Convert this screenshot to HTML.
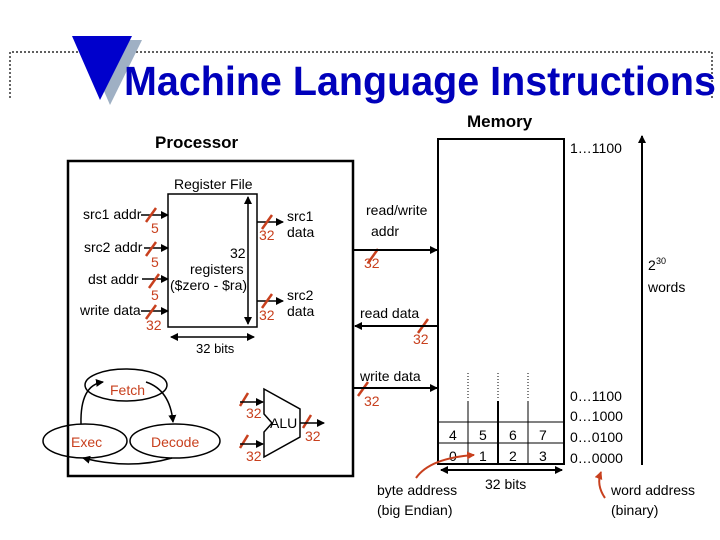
<!DOCTYPE html>
<html><head><style>
body{margin:0;background:#fff;width:720px;height:540px;overflow:hidden}
svg{display:block}
text{font-family:"Liberation Sans",sans-serif}
</style></head><body>
<svg width="720" height="540" viewBox="0 0 720 540">
<defs>
<marker id="a" markerWidth="8" markerHeight="8" refX="7" refY="4" orient="auto-start-reverse" markerUnits="userSpaceOnUse"><path d="M0,0 L8,4 L0,8 z" fill="#000"/></marker>
<marker id="r" markerWidth="8" markerHeight="8" refX="7" refY="4" orient="auto" markerUnits="userSpaceOnUse"><path d="M0,0 L8,4 L0,8 z" fill="#c8401e"/></marker>
</defs>
<!-- title -->
<polyline points="10,98 10,52 712,52 712,98" fill="none" stroke="#000" stroke-dasharray="2,2" stroke-width="1.2"/>
<polygon points="82,40 142,40 110,105" fill="#9fb0c4"/>
<polygon points="72,36 132,36 100,100" fill="#0000cc"/>
<text x="124" y="95" font-size="41" font-weight="bold" fill="#0000bb" textLength="592" lengthAdjust="spacingAndGlyphs">Machine Language Instructions</text>
<!-- processor -->
<text x="155" y="148" font-size="17" font-weight="bold">Processor</text>
<rect x="68" y="161" width="285" height="315" fill="none" stroke="#000" stroke-width="2.5"/>
<text x="174" y="189" font-size="14">Register File</text>
<rect x="168" y="194" width="89" height="133" fill="none" stroke="#000" stroke-width="1.5"/>
<line x1="248" y1="197" x2="248" y2="324" stroke="#000" stroke-width="1.5" marker-start="url(#a)" marker-end="url(#a)"/>
<line x1="171" y1="337" x2="254" y2="337" stroke="#000" stroke-width="1.5" marker-start="url(#a)" marker-end="url(#a)"/>
<text x="196" y="353" font-size="13">32 bits</text>
<text x="230" y="258" font-size="14">32</text>
<text x="190" y="274" font-size="14">registers</text>
<text x="170" y="290" font-size="14">($zero - $ra)</text>
<g font-size="14">
<text x="83" y="219">src1 addr</text>
<text x="84" y="252">src2 addr</text>
<text x="88" y="284">dst addr</text>
<text x="80" y="315">write data</text>
<text x="287" y="221">src1</text><text x="287" y="237">data</text>
<text x="287" y="300">src2</text><text x="287" y="316">data</text>
</g>
<g stroke="#000" stroke-width="1.5">
<line x1="141" y1="215" x2="168" y2="215" marker-end="url(#a)"/>
<line x1="144" y1="248" x2="168" y2="248" marker-end="url(#a)"/>
<line x1="142" y1="279" x2="168" y2="279" marker-end="url(#a)"/>
<line x1="141" y1="311" x2="168" y2="311" marker-end="url(#a)"/>
<line x1="257" y1="222" x2="283" y2="222" marker-end="url(#a)"/>
<line x1="257" y1="301" x2="283" y2="301" marker-end="url(#a)"/>
</g>
<g stroke="#c8401e" stroke-width="2.5">
<line x1="146" y1="222" x2="156" y2="208"/>
<line x1="146" y1="256" x2="156" y2="242"/>
<line x1="149" y1="288" x2="159" y2="274"/>
<line x1="146" y1="319" x2="156" y2="305"/>
<line x1="262" y1="229" x2="272" y2="215"/>
<line x1="262" y1="308" x2="272" y2="294"/>
<line x1="240" y1="406" x2="248" y2="393"/>
<line x1="240" y1="448" x2="248" y2="435"/>
<line x1="303" y1="428" x2="311" y2="415"/>
<line x1="368" y1="263" x2="378" y2="249"/>
<line x1="418" y1="333" x2="428" y2="319"/>
<line x1="358" y1="396" x2="368" y2="382"/>
</g>
<g font-size="14" fill="#c8401e">
<text x="151" y="233">5</text><text x="151" y="267">5</text><text x="151" y="300">5</text><text x="146" y="330">32</text>
<text x="259" y="240">32</text><text x="259" y="320">32</text>
<text x="246" y="418">32</text><text x="246" y="461">32</text><text x="305" y="441">32</text>
<text x="364" y="268">32</text><text x="413" y="344">32</text><text x="364" y="406">32</text>
</g>
<!-- FSM -->
<g fill="none" stroke="#000" stroke-width="1.5">
<ellipse cx="126" cy="385" rx="41" ry="16"/>
<ellipse cx="85" cy="441" rx="42" ry="17"/>
<ellipse cx="175" cy="441" rx="45" ry="17"/>
<path d="M146,382 Q170,390 173,422" marker-end="url(#a)"/>
<path d="M172,458 Q130,470 83,458" marker-end="url(#a)"/>
<path d="M81,424 Q80,385 103,382" marker-end="url(#a)"/>
</g>
<g font-size="14" fill="#c8401e">
<text x="110" y="395">Fetch</text><text x="71" y="447">Exec</text><text x="151" y="447">Decode</text>
</g>
<!-- ALU -->
<polygon points="264,389 300,409 300,437 264,457 264,432 272,423 264,414" fill="none" stroke="#000" stroke-width="1.5"/>
<text x="270" y="428" font-size="14">ALU</text>
<g stroke="#000" stroke-width="1.5">
<line x1="240" y1="402" x2="263" y2="402" marker-end="url(#a)"/>
<line x1="240" y1="444" x2="263" y2="444" marker-end="url(#a)"/>
<line x1="300" y1="423" x2="324" y2="423" marker-end="url(#a)"/>
</g>
<!-- memory -->
<text x="467" y="127" font-size="17" font-weight="bold">Memory</text>
<rect x="438" y="139" width="126" height="325" fill="none" stroke="#000" stroke-width="2"/>
<line x1="438" y1="422" x2="564" y2="422" stroke="#000"/>
<line x1="438" y1="443" x2="564" y2="443" stroke="#000"/>
<g stroke="#000">
<line x1="468" y1="401" x2="468" y2="464"/><line x1="498" y1="401" x2="498" y2="464" stroke-width="2"/><line x1="528" y1="401" x2="528" y2="464"/>
<line x1="468" y1="373" x2="468" y2="400" stroke-dasharray="1,2"/><line x1="498" y1="373" x2="498" y2="400" stroke-dasharray="1,2"/><line x1="528" y1="373" x2="528" y2="400" stroke-dasharray="1,2"/>
</g>
<g font-size="14">
<text x="449" y="440">4</text><text x="479" y="440">5</text><text x="509" y="440">6</text><text x="539" y="440">7</text>
<text x="449" y="461">0</text><text x="479" y="461">1</text><text x="509" y="461">2</text><text x="539" y="461">3</text>
<text x="570" y="153">1…1100</text>
<text x="570" y="401">0…1100</text><text x="570" y="421">0…1000</text><text x="570" y="442">0…0100</text><text x="570" y="463">0…0000</text>
<text x="648" y="270">2</text><text x="656" y="264" font-size="9">30</text><text x="648" y="292">words</text>
<text x="366" y="215">read/write</text><text x="371" y="236">addr</text>
<text x="360" y="318">read data</text><text x="360" y="381">write data</text>
<text x="485" y="489">32 bits</text>
<text x="377" y="495">byte address</text><text x="377" y="515">(big Endian)</text>
<text x="611" y="495">word address</text><text x="611" y="515">(binary)</text>
</g>
<g stroke="#000" stroke-width="2">
<line x1="353" y1="250" x2="437" y2="250" marker-end="url(#a)"/>
<line x1="437" y1="326" x2="355" y2="326" marker-end="url(#a)"/>
<line x1="353" y1="388" x2="437" y2="388" marker-end="url(#a)"/>
<line x1="642" y1="465" x2="642" y2="136" marker-end="url(#a)"/>
<line x1="441" y1="470" x2="562" y2="470" marker-start="url(#a)" marker-end="url(#a)"/>
</g>
<g fill="none" stroke="#c8401e" stroke-width="2">
<path d="M416,478 Q430,458 474,455" marker-end="url(#r)"/>
<path d="M605,498 Q596,485 601,472" marker-end="url(#r)"/>
</g>
</svg>
</body></html>
